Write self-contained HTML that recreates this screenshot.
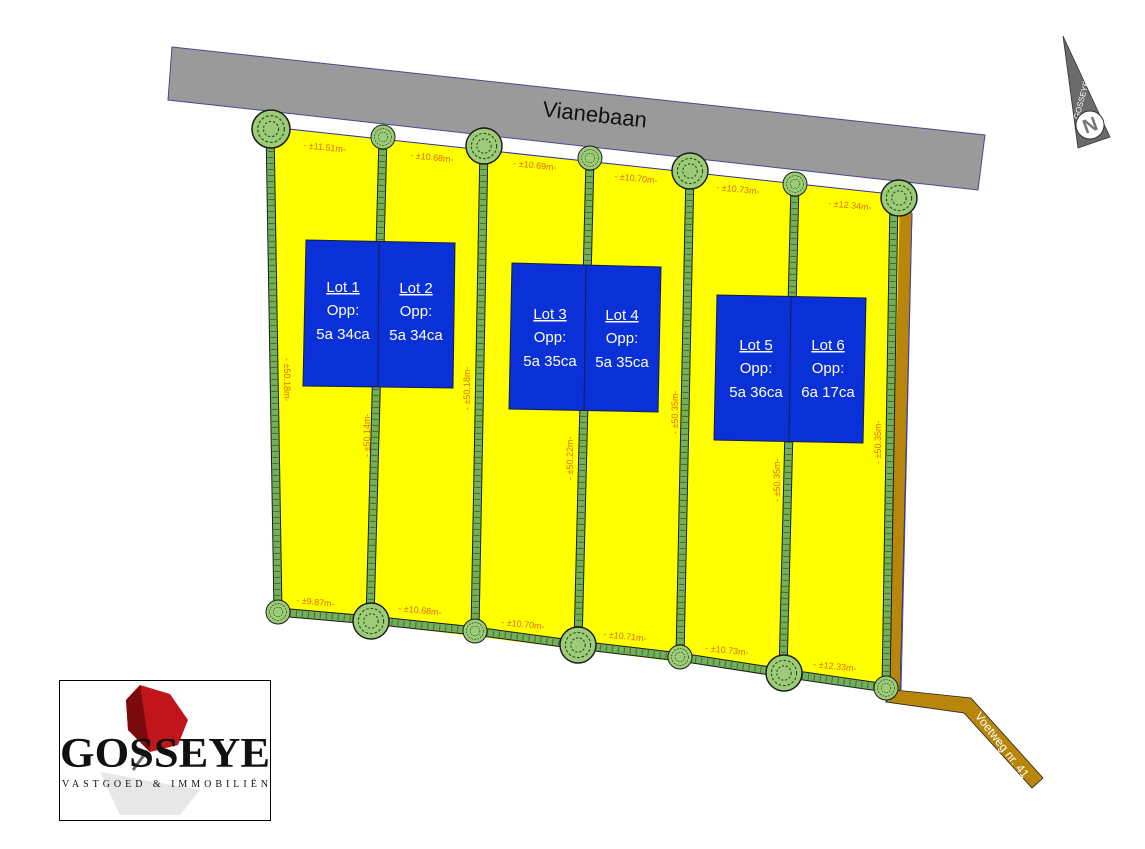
<!DOCTYPE html>
<html><head><meta charset="utf-8"><style>
html,body{margin:0;padding:0;background:#fff;}
svg{display:block;}
.m{font-family:"Liberation Sans",sans-serif;font-size:9px;fill:#e06a10;}
.l{font-family:"Liberation Sans",sans-serif;font-size:15px;fill:#fff;text-anchor:middle;}
</style></head><body>
<svg width="1145" height="849" viewBox="0 0 1145 849" xmlns="http://www.w3.org/2000/svg">
<defs>
<g id="tree"><circle r="1" fill="#9ccc78" stroke="#1a1a1a" stroke-width="0.08"/><circle r="0.7" fill="none" stroke="#2a4a1a" stroke-width="0.06" stroke-dasharray="0.15 0.1"/><circle r="0.4" fill="none" stroke="#2a4a1a" stroke-width="0.06" stroke-dasharray="0.12 0.1"/></g>
</defs>
<polygon points="172,47 985,135 978,190 168,100" fill="#9a9a9a" stroke="#4a4a8a" stroke-width="1"/>
<text x="595" y="122" transform="rotate(6.2 595 112)" font-family="Liberation Sans,sans-serif" font-size="22" fill="#111" text-anchor="middle">Vianebaan</text>
<polygon points="893,205 912,213 900,692 886,702 888,688" fill="#b8860b" stroke="#333" stroke-width="0.8"/>
<polygon points="886,702 895,690 971,698 1043,778 1032,788 964,713" fill="#b8860b" stroke="#222" stroke-width="0.8"/>
<line x1="912" y1="213" x2="901" y2="690" stroke="#4040c0" stroke-width="1"/>
<text x="1002" y="745" transform="rotate(52 1002 745)" font-family="Liberation Sans,sans-serif" font-size="12" fill="#fff" text-anchor="middle" dy="4">Voetweg nr. 41</text>
<polygon points="270,127 900,195 888,688 278,612" fill="#ffff00"/>
<line x1="270" y1="127" x2="900" y2="195" stroke="#3030a0" stroke-width="1"/>
<g stroke-linecap="butt">
<g stroke="#1a1a1a" stroke-width="9">
<line x1="270" y1="127" x2="278" y2="612"/><line x1="383" y1="137" x2="370" y2="620"/><line x1="484" y1="145" x2="475" y2="631"/><line x1="590" y1="158" x2="578" y2="645"/><line x1="690" y1="170" x2="680" y2="657"/><line x1="795" y1="184" x2="783" y2="673"/><line x1="894" y1="197" x2="886" y2="688"/>
<polyline points="278,612 370,620 475,631 578,645 680,657 783,673 886,688" fill="none"/>
</g>
<g stroke="#72b05a" stroke-width="7">
<line x1="270" y1="127" x2="278" y2="612"/><line x1="383" y1="137" x2="370" y2="620"/><line x1="484" y1="145" x2="475" y2="631"/><line x1="590" y1="158" x2="578" y2="645"/><line x1="690" y1="170" x2="680" y2="657"/><line x1="795" y1="184" x2="783" y2="673"/><line x1="894" y1="197" x2="886" y2="688"/>
<polyline points="278,612 370,620 475,631 578,645 680,657 783,673 886,688" fill="none"/>
</g>
<g stroke="#2a3a20" stroke-width="6" stroke-dasharray="1 5" opacity="0.6">
<line x1="270" y1="127" x2="278" y2="612"/><line x1="383" y1="137" x2="370" y2="620"/><line x1="484" y1="145" x2="475" y2="631"/><line x1="590" y1="158" x2="578" y2="645"/><line x1="690" y1="170" x2="680" y2="657"/><line x1="795" y1="184" x2="783" y2="673"/><line x1="894" y1="197" x2="886" y2="688"/>
<polyline points="278,612 370,620 475,631 578,645 680,657 783,673 886,688" fill="none"/>
</g>
</g>
<use href="#tree" transform="translate(271,129) scale(19)"/>
<use href="#tree" transform="translate(383,137) scale(12)"/>
<use href="#tree" transform="translate(484,146) scale(18)"/>
<use href="#tree" transform="translate(590,158) scale(12)"/>
<use href="#tree" transform="translate(690,171) scale(18)"/>
<use href="#tree" transform="translate(795,184) scale(12)"/>
<use href="#tree" transform="translate(899,198) scale(18)"/>
<use href="#tree" transform="translate(278,612) scale(12)"/>
<use href="#tree" transform="translate(371,621) scale(18)"/>
<use href="#tree" transform="translate(475,631) scale(12)"/>
<use href="#tree" transform="translate(578,645) scale(18)"/>
<use href="#tree" transform="translate(680,657) scale(12)"/>
<use href="#tree" transform="translate(784,673) scale(18)"/>
<use href="#tree" transform="translate(886,688) scale(12)"/>
<g class="m">
<text x="303" y="148" transform="rotate(6 303 148)">- ±11.51m-</text>
<text x="410" y="158" transform="rotate(6 410 158)">- ±10.68m-</text>
<text x="513" y="166" transform="rotate(6 513 166)">- ±10.69m-</text>
<text x="614" y="179" transform="rotate(6 614 179)">- ±10.70m-</text>
<text x="716" y="190" transform="rotate(6 716 190)">- ±10.73m-</text>
<text x="828" y="206" transform="rotate(6 828 206)">- ±12.34m-</text>
<text x="296" y="603" transform="rotate(6 296 603)">- ±9.87m-</text>
<text x="398" y="611" transform="rotate(6 398 611)">- ±10.68m-</text>
<text x="501" y="625" transform="rotate(6 501 625)">- ±10.70m-</text>
<text x="603" y="637" transform="rotate(6 603 637)">- ±10.71m-</text>
<text x="705" y="651" transform="rotate(6 705 651)">- ±10.73m-</text>
<text x="813" y="667" transform="rotate(6 813 667)">- ±12.33m-</text>
<text x="284" y="358" transform="rotate(90 284 358)">- ±50.18m-</text>
<text x="370" y="457" transform="rotate(-90 370 457)">- ±50.14m-</text>
<text x="470" y="410" transform="rotate(-90 470 410)">- ±50.18m-</text>
<text x="573" y="480" transform="rotate(-90 573 480)">- ±50.22m-</text>
<text x="678" y="434" transform="rotate(-90 678 434)">- ±50.35m-</text>
<text x="780" y="502" transform="rotate(-90 780 502)">- ±50.35m-</text>
<text x="881" y="464" transform="rotate(-90 881 464)">- ±50.35m-</text>
</g>
<g fill="#0a30d8" stroke="#1a1a4a" stroke-width="1">
<polygon points="306,240 455,243 453,388 303,386"/><line x1="379" y1="242" x2="378" y2="387"/>
<polygon points="512,263 661,267 658,412 509,409"/><line x1="586" y1="265" x2="584" y2="411"/>
<polygon points="717,295 866,298 863,443 714,440"/><line x1="791" y1="297" x2="789" y2="442"/>
</g>
<g class="l">
<text x="343" y="292" text-decoration="underline">Lot 1</text><text x="343" y="315">Opp:</text><text x="343" y="339">5a 34ca</text>
<text x="416" y="293" text-decoration="underline">Lot 2</text><text x="416" y="316">Opp:</text><text x="416" y="340">5a 34ca</text>
<text x="550" y="319" text-decoration="underline">Lot 3</text><text x="550" y="342">Opp:</text><text x="550" y="366">5a 35ca</text>
<text x="622" y="320" text-decoration="underline">Lot 4</text><text x="622" y="343">Opp:</text><text x="622" y="367">5a 35ca</text>
<text x="756" y="350" text-decoration="underline">Lot 5</text><text x="756" y="373">Opp:</text><text x="756" y="397">5a 36ca</text>
<text x="828" y="350" text-decoration="underline">Lot 6</text><text x="828" y="373">Opp:</text><text x="828" y="397">6a 17ca</text>
</g>
<polygon points="1063,36 1110,137 1078,148" fill="#6b6b6b" stroke="#333" stroke-width="0.8"/>
<text x="1081" y="100" transform="rotate(-75 1081 100)" font-family="Liberation Sans,sans-serif" font-size="8" fill="#fff" text-anchor="middle" dy="3">GOSSEYE</text>
<circle cx="1090" cy="125" r="14" fill="#fff" stroke="#333" stroke-width="1"/>
<text x="1090" y="132" transform="rotate(-20 1090 125)" font-family="Liberation Sans,sans-serif" font-size="20" font-weight="bold" fill="#777" text-anchor="middle">N</text>
<rect x="59.5" y="680.5" width="211" height="140" fill="#fff" stroke="#000" stroke-width="1"/>
<polygon points="100,772 200,790 180,815 120,815" fill="#ddd" opacity="0.7"/>
<polygon points="140,685 170,694 188,720 178,745 150,752 128,730 126,700" fill="#c0161b"/>
<polygon points="140,685 150,752 128,730 126,700" fill="#7a0a0c"/>
<line x1="147" y1="751" x2="133" y2="770" stroke="#666" stroke-width="3"/>
<text x="165" y="767" font-family="Liberation Serif,serif" font-size="42" font-weight="bold" fill="#111" text-anchor="middle" textLength="210" lengthAdjust="spacingAndGlyphs">GOSSEYE</text>
<text x="165" y="787" font-family="Liberation Serif,serif" font-size="10" fill="#111" text-anchor="middle" textLength="206" lengthAdjust="spacing">VASTGOED &amp; IMMOBILIËN</text>
</svg>
</body></html>
